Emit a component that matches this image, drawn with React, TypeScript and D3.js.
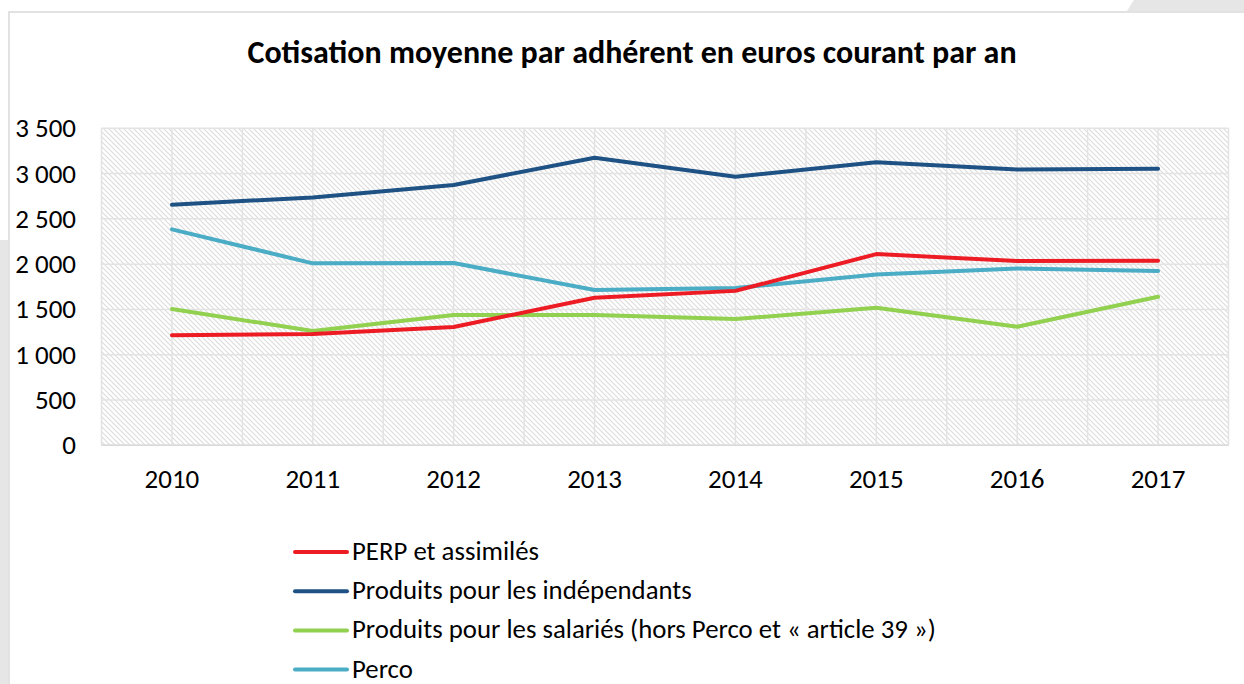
import React from "react";
import * as d3 from "d3";

const years = ["2010", "2011", "2012", "2013", "2014", "2015", "2016", "2017"];
const perp = [1214, 1228, 1307, 1629, 1705, 2111, 2034, 2038];
const independants = [2656, 2737, 2873, 3175, 2965, 3124, 3046, 3053];
const salaries = [1504, 1262, 1438, 1438, 1394, 1519, 1309, 1640];
const perco = [2384, 2009, 2012, 1714, 1736, 1887, 1953, 1924];
const yTicks = [0, 500, 1000, 1500, 2000, 2500, 3000, 3500];
const title = "Cotisation moyenne par adhérent en euros courant par an";

const series = [
  { name: "PERP et assimilés", values: perp, color: "#ed1c24" },
  { name: "Produits pour les indépendants", values: independants, color: "#1f5284" },
  { name: "Produits pour les salariés (hors Perco et « article 39 »)", values: salaries, color: "#92d050" },
  { name: "Perco", values: perco, color: "#4bacc6" },
];
const drawOrder = [1, 3, 2, 0];

const W = 1244, H = 684;
const FONT = "Carlito, Calibri, Lato, 'Open Sans', sans-serif";

export default function App() {
  const left = 101.5, right = 1228.5, top = 128.3, bottom = 445.3;
  const x = d3.scaleBand<string>().domain(years).range([left, right]);
  const y = d3.scaleLinear().domain([0, 3500]).range([bottom, top]);
  const line = d3.line<number>()
    .x((_, i) => (x(years[i]) as number) + x.bandwidth() / 2)
    .y((v) => y(v));
  const vGrid: number[] = [];
  years.forEach((yr) => {
    vGrid.push(x(yr) as number);
    vGrid.push((x(yr) as number) + x.bandwidth() / 2);
  });
  vGrid.push(right);

  return (
    <svg width={W} height={H} style={{ position: "absolute", left: 0, top: 0, display: "block" }}>
      <defs>
        <pattern id="hatch" patternUnits="userSpaceOnUse" width="5" height="5">
          <rect width="5" height="5" fill="#ffffff" />
          <path d="M-1,-1 L6,6 M-1,4 L1,6 M4,-1 L6,1" stroke="#dcdcdc" strokeWidth="1.1" />
        </pattern>
      </defs>
      <rect x={0} y={0} width={W} height={H} fill="#ffffff" />
      <polygon points={`1134,0 ${W},0 ${W},11 1127,11`} fill="#e6e6e6" />
      <rect x={0} y={240} width={8} height={H - 240} fill="#e6e6e6" />
      <rect x={9} y={12} width={W} height={H} fill="#ffffff" stroke="#d9d9d9" strokeWidth={1.5} />

      <text x={632} y={63} textAnchor="middle" fontFamily={FONT} fontWeight="bold" fontSize={32} fill="#000">
        {title}
      </text>

      <rect x={left} y={top} width={right - left} height={bottom - top} fill="url(#hatch)" />
      {yTicks.map((t) => (
        <line key={"h" + t} x1={left} x2={right} y1={y(t)} y2={y(t)} stroke="#e3e3e3" strokeWidth={1.5} />
      ))}
      {vGrid.map((g, i) => (
        <line key={"v" + i} x1={g} x2={g} y1={top} y2={bottom} stroke="#e3e3e3" strokeWidth={1.5} />
      ))}
      <line x1={left} x2={right} y1={bottom} y2={bottom} stroke="#d9d9d9" strokeWidth={1.5} />

      {yTicks.map((t) => (
        <text key={"yl" + t} x={76} y={y(t) + 9} textAnchor="end" fontFamily={FONT} fontSize={27} fill="#000">
          {d3.format(",")(t).replace(/,/g, " ")}
        </text>
      ))}
      {years.map((yr) => (
        <text key={"xl" + yr} x={(x(yr) as number) + x.bandwidth() / 2} y={487.5} textAnchor="middle" fontFamily={FONT} fontSize={27} fill="#000">
          {yr}
        </text>
      ))}

      {drawOrder.map((k) => (
        <path key={"s" + k} d={line(series[k].values) || ""} fill="none" stroke={series[k].color} strokeWidth={4} strokeLinejoin="round" strokeLinecap="round" />
      ))}

      {series.map((s, i) => {
        const ly = 552 + i * 39.2;
        return (
          <g key={"lg" + i}>
            <line x1={295} x2={347} y1={ly} y2={ly} stroke={s.color} strokeWidth={4} strokeLinecap="round" />
            <text x={352} y={ly + 8} fontFamily={FONT} fontSize={26.8} fill="#000">{s.name}</text>
          </g>
        );
      })}
    </svg>
  );
}
